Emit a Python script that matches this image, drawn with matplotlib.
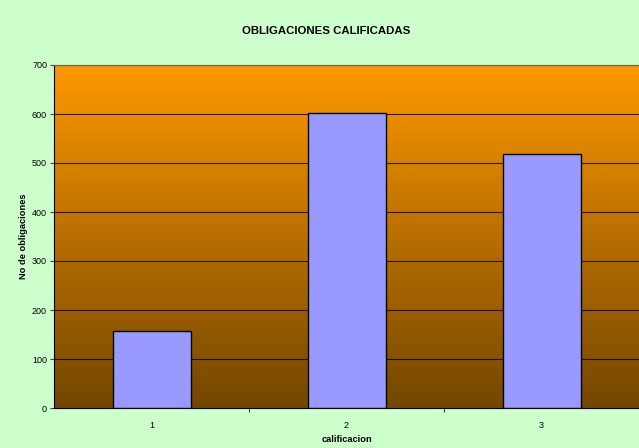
import numpy as np
import matplotlib.pyplot as plt
from matplotlib.colors import LinearSegmentedColormap

plt.rcParams['font.family'] = ['Liberation Sans', 'DejaVu Sans']

# datos
categorias = ['1', '2', '3']
obligaciones = [157, 602, 519]
yticks = [0, 100, 200, 300, 400, 500, 600, 700]

fig = plt.figure(figsize=(6.39, 4.48), dpi=100, facecolor='#CCFFCC')
ax = fig.add_axes([54/639, 40/448, 585/639, 343/448])

# degradado del fondo (naranja arriba, marron abajo)
grad = LinearSegmentedColormap.from_list('fondo', ['#734600', '#FF9900'])
ax.imshow(np.linspace(0, 1, 256).reshape(-1, 1), cmap=grad, aspect='auto',
          extent=[-0.5, 2.5, 0, 700], origin='lower', zorder=0)

x = np.arange(len(categorias))
ax.bar(x, obligaciones, width=0.4, color='#9999FF', edgecolor='black',
       linewidth=1.0, zorder=3)

ax.set_xlim(-0.5, 2.5)
ax.set_ylim(0, 700)
ax.set_yticks(yticks)
ax.set_yticklabels([str(v) for v in yticks])
for v in yticks[1:]:
    ax.axhline(v, color='black', linewidth=0.8, zorder=1, alpha=0.8)

ax.set_xticks(x)
ax.set_xticklabels(categorias)
ax.set_xticks([0.5, 1.5], minor=True)
ax.tick_params(axis='x', which='major', length=0, labelsize=6.5, pad=9)
ax.tick_params(axis='x', which='minor', length=3, width=0.8, color='#444444')
ax.tick_params(axis='y', length=3, width=0.8, labelsize=6.5, pad=2, color='#444444')

ax.spines['right'].set_visible(False)
ax.spines['top'].set_color('#666666')
ax.spines['left'].set_color('black')
ax.spines['bottom'].set_color('black')

ax.set_ylabel('No de obligaciones', fontsize=6.7, fontweight='bold', labelpad=3)
ax.set_xlabel('calificacion', fontsize=6.7, fontweight='bold', labelpad=4)
fig.text(326/639, 1 - 31/448, 'OBLIGACIONES CALIFICADAS', ha='center', va='center',
         fontsize=8.2, fontweight='bold')

fig.savefig('out.png', dpi=100, facecolor=fig.get_facecolor())
